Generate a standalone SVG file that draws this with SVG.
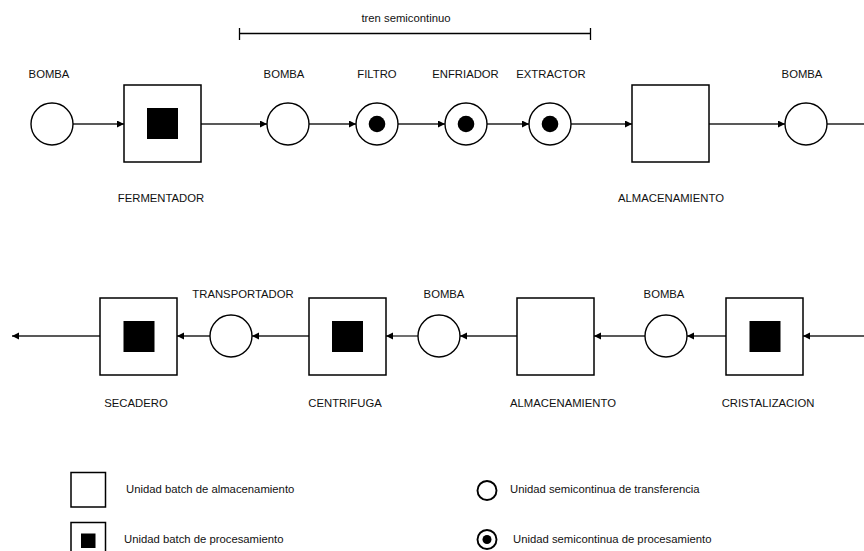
<svg xmlns="http://www.w3.org/2000/svg" width="864" height="551" viewBox="0 0 864 551">
  <style>
    .box { fill: #ffffff; stroke: #000000; stroke-width: 1.5; }
    .core { fill: #000000; }
    .unit { fill: #ffffff; stroke: #000000; stroke-width: 1.4; }
    .dot { fill: #000000; }
    .flow { fill: none; stroke: #222222; stroke-width: 1.3; }
    .lbl { font-family: "Liberation Sans", Arial, sans-serif; font-size: 11.3px; fill: #111111; text-anchor: middle; }
    .leg { font-family: "Liberation Sans", Arial, sans-serif; font-size: 11.3px; fill: #111111; }
    .legunit { fill: #ffffff; stroke: #000000; stroke-width: 1.9; }
  </style>
  <defs>
    <marker id="arrow" markerWidth="8" markerHeight="8" refX="7" refY="3.5" orient="auto" markerUnits="userSpaceOnUse">
      <path d="M0,0 L7,3.5 L0,7 Z" fill="#000000"/>
    </marker>
  </defs>

  <rect width="864" height="551" fill="#ffffff"/>

  <!-- semicontinuous train bracket -->
  <g id="tren">
    <line x1="239.5" y1="33.5" x2="590.5" y2="33.5" stroke="#000" stroke-width="1.3"/>
    <line x1="239.5" y1="28" x2="239.5" y2="40" stroke="#000" stroke-width="1.3"/>
    <line x1="590.5" y1="28" x2="590.5" y2="40" stroke="#000" stroke-width="1.3"/>
    <text class="lbl" x="406" y="22">tren semicontinuo</text>
  </g>

  <!-- connectors -->
  <g id="connectors">
    <!-- upper line, left to right -->
    <line class="flow" x1="73" y1="124" x2="124" y2="124" marker-end="url(#arrow)"/>
    <line class="flow" x1="201" y1="124" x2="267" y2="124" marker-end="url(#arrow)"/>
    <line class="flow" x1="309" y1="124" x2="356" y2="124" marker-end="url(#arrow)"/>
    <line class="flow" x1="398" y1="124" x2="445" y2="124" marker-end="url(#arrow)"/>
    <line class="flow" x1="487" y1="124" x2="529" y2="124" marker-end="url(#arrow)"/>
    <line class="flow" x1="571" y1="124" x2="632" y2="124" marker-end="url(#arrow)"/>
    <line class="flow" x1="709" y1="124" x2="785" y2="124" marker-end="url(#arrow)"/>
    <line class="flow" x1="827" y1="124" x2="864" y2="124"/>
    <!-- lower line, right to left -->
    <line class="flow" x1="864" y1="336" x2="803" y2="336" marker-end="url(#arrow)"/>
    <line class="flow" x1="726" y1="336" x2="687" y2="336" marker-end="url(#arrow)"/>
    <line class="flow" x1="645" y1="336" x2="594" y2="336" marker-end="url(#arrow)"/>
    <line class="flow" x1="517" y1="336" x2="460" y2="336" marker-end="url(#arrow)"/>
    <line class="flow" x1="418" y1="336" x2="386" y2="336" marker-end="url(#arrow)"/>
    <line class="flow" x1="309" y1="336" x2="252" y2="336" marker-end="url(#arrow)"/>
    <line class="flow" x1="210" y1="336" x2="177" y2="336" marker-end="url(#arrow)"/>
    <line class="flow" x1="100" y1="336" x2="12" y2="336" marker-end="url(#arrow)"/>
  </g>

  <!-- upper line units -->
  <g id="bomba1">
    <circle class="unit" cx="52" cy="124" r="21"/>
    <text class="lbl" x="49" y="78">BOMBA</text>
  </g>
  <g id="fermentador">
    <rect class="box" x="124" y="85" width="77" height="77"/>
    <rect class="core" x="147" y="108" width="31" height="31"/>
    <text class="lbl" x="161" y="202">FERMENTADOR</text>
  </g>
  <g id="bomba2">
    <circle class="unit" cx="288" cy="124" r="21"/>
    <text class="lbl" x="284" y="78">BOMBA</text>
  </g>
  <g id="filtro">
    <circle class="unit" cx="377" cy="124" r="21"/>
    <circle class="dot" cx="377" cy="124" r="8.3"/>
    <text class="lbl" x="377" y="78">FILTRO</text>
  </g>
  <g id="enfriador">
    <circle class="unit" cx="466" cy="124" r="21"/>
    <circle class="dot" cx="466" cy="124" r="8.3"/>
    <text class="lbl" x="465.5" y="78">ENFRIADOR</text>
  </g>
  <g id="extractor">
    <circle class="unit" cx="550" cy="124" r="21"/>
    <circle class="dot" cx="550" cy="124" r="8.3"/>
    <text class="lbl" x="551" y="78">EXTRACTOR</text>
  </g>
  <g id="almacenamiento1">
    <rect class="box" x="632" y="85" width="77" height="77"/>
    <text class="lbl" x="671" y="202">ALMACENAMIENTO</text>
  </g>
  <g id="bomba3">
    <circle class="unit" cx="806" cy="124" r="21"/>
    <text class="lbl" x="802" y="78">BOMBA</text>
  </g>

  <!-- lower line units -->
  <g id="cristalizacion">
    <rect class="box" x="726" y="298" width="77" height="77"/>
    <rect class="core" x="749.5" y="321" width="31" height="31"/>
    <text class="lbl" x="768" y="407">CRISTALIZACION</text>
  </g>
  <g id="bomba4">
    <circle class="unit" cx="666" cy="336" r="21"/>
    <text class="lbl" x="664" y="298">BOMBA</text>
  </g>
  <g id="almacenamiento2">
    <rect class="box" x="517" y="298" width="77" height="77"/>
    <text class="lbl" x="563" y="407">ALMACENAMIENTO</text>
  </g>
  <g id="bomba5">
    <circle class="unit" cx="439" cy="336" r="21"/>
    <text class="lbl" x="444" y="298">BOMBA</text>
  </g>
  <g id="centrifuga">
    <rect class="box" x="309" y="298" width="77" height="77"/>
    <rect class="core" x="332" y="321" width="31" height="31"/>
    <text class="lbl" x="345" y="407">CENTRIFUGA</text>
  </g>
  <g id="transportador">
    <circle class="unit" cx="231" cy="336" r="21"/>
    <text class="lbl" x="243" y="298">TRANSPORTADOR</text>
  </g>
  <g id="secadero">
    <rect class="box" x="100" y="298" width="77" height="77"/>
    <rect class="core" x="123.5" y="321" width="31" height="31"/>
    <text class="lbl" x="136" y="407">SECADERO</text>
  </g>

  <!-- legend -->
  <g id="leyenda-almacenamiento">
    <rect class="box" x="71" y="472.5" width="34.5" height="34.5"/>
    <text class="leg" x="126" y="493">Unidad batch de almacenamiento</text>
  </g>
  <g id="leyenda-procesamiento-batch">
    <rect class="box" x="71" y="522.5" width="34.5" height="34.5"/>
    <rect class="core" x="81" y="533.5" width="14.5" height="14.5"/>
    <text class="leg" x="124" y="543">Unidad batch de procesamiento</text>
  </g>
  <g id="leyenda-transferencia">
    <circle class="legunit" cx="487" cy="490.5" r="9.5"/>
    <text class="leg" x="510" y="493">Unidad semicontinua de transferencia</text>
  </g>
  <g id="leyenda-procesamiento-semicontinuo">
    <circle class="legunit" cx="487" cy="539.5" r="9.5"/>
    <circle class="dot" cx="487" cy="539.5" r="4.5"/>
    <text class="leg" x="513" y="543">Unidad semicontinua de procesamiento</text>
  </g>
</svg>
